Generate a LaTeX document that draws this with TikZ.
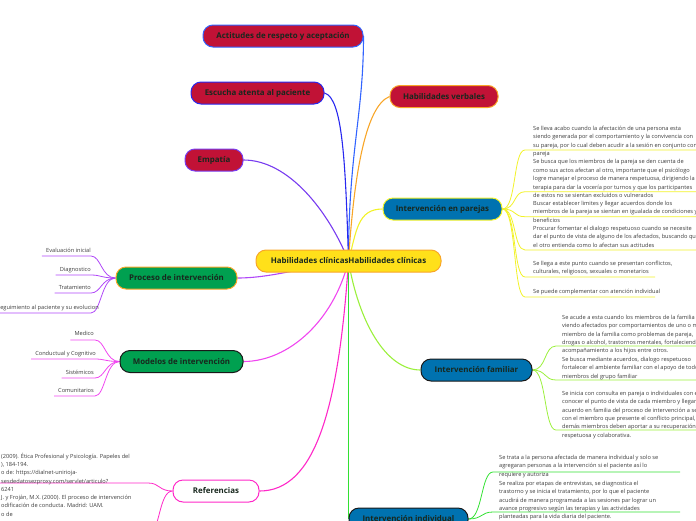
\documentclass[tikz,border=0pt]{standalone}
\usepackage{fontspec}
\setmainfont{Open Sans}
\usetikzlibrary{positioning}
\definecolor{mycrimson}{RGB}{193,18,54}
\definecolor{mygreen}{RGB}{0,160,80}
\definecolor{myblue}{RGB}{0,114,176}
\definecolor{myyellow}{RGB}{255,224,26}
\definecolor{mytitle}{RGB}{24,40,30}
\definecolor{mytext}{RGB}{60,60,60}
\definecolor{myorange}{RGB}{248,166,40}
\definecolor{mydark}{RGB}{25,25,25}
\definecolor{lnblue}{RGB}{50,100,255}
\definecolor{lndeep}{RGB}{40,40,240}
\definecolor{lnpurple}{RGB}{120,60,240}
\definecolor{lnyellow}{RGB}{242,242,40}
\definecolor{lnviolet}{RGB}{176,72,248}
\definecolor{lnmagenta}{RGB}{240,70,240}
\definecolor{lnpink}{RGB}{255,40,200}
\definecolor{lnlime}{RGB}{155,240,60}
\definecolor{lngreen}{RGB}{50,225,50}
\pgfdeclarelayer{back}
\pgfsetlayers{back,main}
\tikzset{
  topic/.style={rectangle, rounded corners=10pt, minimum height=22pt, inner xsep=4pt, font=\fontsize{7.9}{9}\selectfont\bfseries, text=mytitle, line width=1pt},
  leaf/.style={align=left, inner sep=0pt, font=\fontsize{5.65}{8.4}\selectfont, text=mytext},
  link/.style={line width=1.1pt},
  twig/.style={line width=0.8pt}
}
\begin{document}
\begin{tikzpicture}[x=1pt, y=-1pt]
  \useasboundingbox (0,0) rectangle (696,520);
  \clip (0,0) rectangle (696,520);

  % central topic
  \node [topic, fill=myyellow, draw=myorange, minimum width=185pt] (hab) at (348.5,261) {Habilidades clínicasHabilidades clínicas};

  % upper left
  \node [topic, fill=mycrimson, draw=lnblue, minimum width=160pt] (act) at (283,36) {Actitudes de respeto y aceptación};
  \node [topic, fill=mycrimson, draw=lndeep, minimum width=133pt] (esc) at (257.5,93) {Escucha atenta al paciente};
  \node [topic, fill=mycrimson, draw=lnpurple, minimum width=58pt] (emp) at (214,160) {Empatía};
  % upper right
  \node [topic, fill=mycrimson, draw=myorange, minimum width=108pt] (verb) at (444,96.5) {Habilidades verbales};
  \node [topic, fill=myblue, draw=lnyellow, minimum width=119pt] (par) at (442.5,209) {Intervención en parejas};
  % lower left
  \node [topic, fill=mygreen, draw=myorange, minimum width=121pt] (proc) at (176.5,278) {Proceso de intervención};
  \node [topic, fill=mygreen, draw=mydark, minimum width=123pt] (mod) at (181.5,361.5) {Modelos de intervención};
  \node [topic, fill=white, draw=lnpink, minimum width=86pt] (ref) at (216,491) {Referencias};
  % lower right
  \node [topic, fill=myblue, draw=mydark, minimum width=111pt] (fam) at (476.5,370) {Intervención familiar};
  \node [topic, fill=myblue, draw=mydark, minimum width=119pt] (ind) at (408.5,519) {Intervención individual};

  % leaves of Intervención en parejas
  \node [leaf, anchor=north west] (c1) at (533,125.7) {Se lleva acabo cuando la afectación de una persona esta\\siendo generada por el comportamiento y la convivencia con\\su pareja, por lo cual deben acudir a la sesión en conjunto con su\\pareja};
  \node [leaf, anchor=north west] (c2) at (533,159.4) {Se busca que los miembros de la pareja se den cuenta de\\como sus actos afectan al otro, importante que el psicólogo\\logre manejar el proceso de manera respetuosa, dirigiendo la\\terapia para dar la vocería por turnos y que los participantes\\de estos no se sientan excluidos o vulnerados};
  \node [leaf, anchor=north west] (c3) at (533,201) {Buscar establecer limites y llegar acuerdos donde los\\miembros de la pareja se sientan en igualada de condiciones y\\beneficios};
  \node [leaf, anchor=north west] (c4) at (533,226) {Procurar fomentar el dialogo respetuoso cuando se necesite\\dar el punto de vista de alguno de los afectados, buscando que\\el otro entienda como lo afectan sus actitudes};
  \node [leaf, anchor=north west] (c5) at (533,261) {Se llega a este punto cuando se presentan conflictos,\\culturales, religiosos, sexuales o monetarios};
  \node [leaf, anchor=base west] (c6) at (533,293.7) {Se puede complementar con atención individual};

  % leaves of Proceso de intervención
  \node [leaf, anchor=base east] (e1) at (91,252) {Evaluación inicial};
  \node [leaf, anchor=base east] (e2) at (91,271) {Diagnostico};
  \node [leaf, anchor=base east] (e3) at (91,289) {Tratamiento};
  \node [leaf, anchor=base east] (e4) at (99,309) {Seguimiento al paciente y su evolucion};

  % leaves of Modelos de intervención
  \node [leaf, anchor=base east] (m1) at (94,335) {Medico};
  \node [leaf, anchor=base east] (m2) at (96,355) {Conductual y Cognitivo};
  \node [leaf, anchor=base east] (m3) at (94,374) {Sistémicos};
  \node [leaf, anchor=base east] (m4) at (94,392) {Comunitarios};

  % leaves of Referencias
  \node [leaf, anchor=north west] (r1) at (1,452.7) {(2009). Ética Profesional y Psicología. Papeles del\\), 184-194.\\o de: https://dialnet-unirioja-\\sesdedatosezproxy.com/servlet/articulo?\\6241};
  \node [leaf, anchor=north west] (r2) at (1,494.7) {J. y Froján, M.X. (2000). El proceso de intervención\\odificación de conducta. Madrid: UAM.\\o de};

  % leaves of Intervención familiar
  \node [leaf, anchor=north west] (f1) at (562,314.7) {Se acude a esta cuando los miembros de la familia se ven\\viendo afectados por comportamientos de uno o más\\miembro de la familia como problemas de pareja,\\drogas o alcohol, trastornos mentales, fortaleciendo el\\acompañamiento a los hijos entre otros.};
  \node [leaf, anchor=north west] (f2) at (562,356.7) {Se busca mediante acuerdos, dialogo respetuoso\\fortalecer el ambiente familiar con el apoyo de todos los\\miembros del grupo familiar};
  \node [leaf, anchor=north west] (f3) at (562,390.7) {Se inicia con consulta en pareja o individuales con el fin de\\conocer el punto de vista de cada miembro y llegar a un\\acuerdo en familia del proceso de intervención a seguir\\con el miembro que presente el conflicto principal, los\\demás miembros deben aportar a su recuperación de forma\\respetuosa y colaborativa.};

  % leaves of Intervención individual
  \node [leaf, anchor=north west] (i1) at (499,454.7) {Se trata a la persona afectada de manera individual y solo se\\agregaran personas a la intervención si el paciente así lo\\requiere y autoriza};
  \node [leaf, anchor=north west] (i2) at (499,480.7) {Se realiza por etapas de entrevistas, se diagnostica el\\trastorno y se inicia el tratamiento, por lo que el paciente\\acudirá de manera programada a las sesiones par lograr un\\avance progresivo según las terapias y las actividades\\planteadas para la vida diaria del paciente.};

  % ends of the underlines
  \coordinate (u1) at (525,150);
  \coordinate (u2) at (525,191.7);
  \coordinate (u3) at (525,216.7);
  \coordinate (u4) at (525,250);
  \coordinate (u5) at (525,277);
  \coordinate (u6) at (525,297);
  \coordinate (p1) at (91,256);
  \coordinate (p2) at (91,275);
  \coordinate (p3) at (91,293);
  \coordinate (p4) at (91,313);
  \coordinate (q1) at (95,340);
  \coordinate (q2) at (95,359);
  \coordinate (q3) at (95,378);
  \coordinate (q4) at (95,396);
  \coordinate (v1) at (148,483);
  \coordinate (v2) at (148,535);
  \coordinate (w1) at (556,346);
  \coordinate (w2) at (556,380);
  \coordinate (w3) at (556,430);
  \coordinate (k1) at (493,472);
  \coordinate (k2) at (493,512);

  \begin{pgfonlayer}{back}
    % branches from the centre
    \draw [link, lnblue] (hab.center) .. controls +(0,-110) and +(0,80) .. (act.east);
    \draw [link, lndeep] (hab.center) .. controls +(-3,-100) and +(18,5) .. (esc.east);
    \draw [link, lnpurple] (hab.center) .. controls +(-20,-50) and +(45,0) .. (emp.east);
    \draw [link, myorange] (hab.center) .. controls +(5,-80) and +(-25,10) .. (verb.west);
    \draw [link, lnyellow] (hab.center) .. controls +(8,-30) and +(-25,0) .. (par.west);
    \draw [link, lnviolet] (hab.center) .. controls +(-40,5) and +(35,0) .. (proc.east);
    \draw [link, lnmagenta] (hab.center) .. controls +(-15,60) and +(45,0) .. (mod.east);
    \draw [link, lnpink] (hab.center) .. controls +(-10,150) and +(55,0) .. (ref.east);
    \draw [link, lnlime] (hab.center) .. controls +(10,60) and +(-35,0) .. (fam.west);
    \draw [link, lngreen] (hab.center) -- (ind.west);

    % twigs to the leaves
    \foreach \u/\l in {u1/175, u2/175, u3/175, u4/175, u5/130, u6/130}
      \draw [twig, lnyellow] (par.east) .. controls +(14,0) and +(-12,0) .. (\u) -- +(\l,0);
    \foreach \p/\e in {p1/e1, p2/e2, p3/e3, p4/e4}
      \draw [twig, lnviolet] (proc.west) .. controls +(-14,0) and +(10,0) .. (\p) -- ([xshift=-4pt]\p -| \e.west);
    \foreach \q/\m in {q1/m1, q2/m2, q3/m3, q4/m4}
      \draw [twig, lnmagenta] (mod.west) .. controls +(-14,0) and +(10,0) .. (\q) -- ([xshift=-4pt]\q -| \m.west);
    \foreach \v in {v1, v2}
      \draw [twig, lnpink] (ref.west) .. controls +(-14,0) and +(12,0) .. (\v) -- +(-150,0);
    \foreach \w in {w1, w2, w3}
      \draw [twig, lnlime] (fam.east) .. controls +(14,0) and +(-12,0) .. (\w) -- +(150,0);
    \foreach \k in {k1, k2}
      \draw [twig, lngreen] (ind.east) .. controls +(14,0) and +(-12,0) .. (\k) -- +(187,0);
  \end{pgfonlayer}
\end{tikzpicture}
\end{document}
